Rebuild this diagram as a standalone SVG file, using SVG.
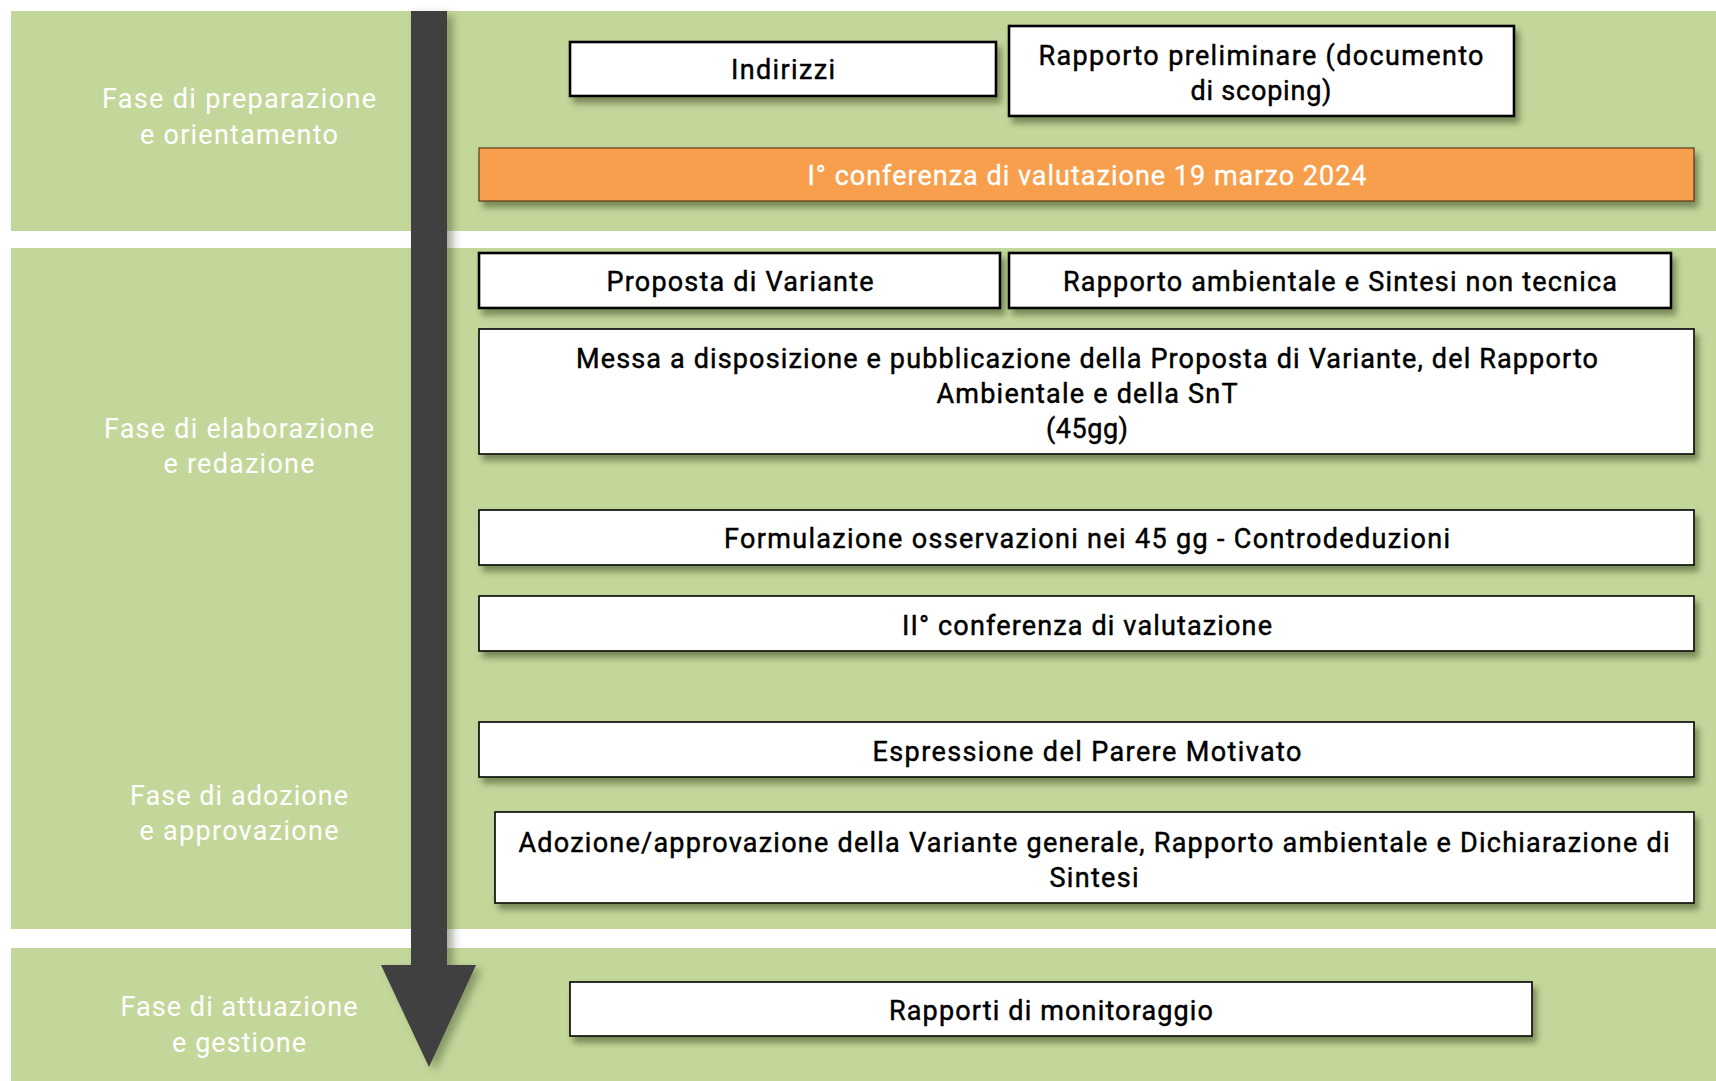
<svg xmlns="http://www.w3.org/2000/svg" width="1716" height="1081" viewBox="0 0 1716 1081">
<defs>
<filter id="sh" x="-5%" y="-20%" width="115%" height="160%">
<feDropShadow dx="4" dy="6" stdDeviation="3" flood-color="#3a4a20" flood-opacity="0.55"/>
</filter>
<filter id="ash" x="-20%" y="-5%" width="160%" height="115%">
<feDropShadow dx="6" dy="4" stdDeviation="4" flood-color="#3a4a20" flood-opacity="0.45"/>
</filter>
<style>
.band{fill:#C4D79B}
.box{fill:#fff;stroke:#000;stroke-width:1.6;filter:url(#sh)}
.boxb{fill:#fff;stroke:#000;stroke-width:2.6;filter:url(#sh)}
.orange{fill:#F79F4D;stroke:#5a3a1a;stroke-width:1.2;filter:url(#sh)}
.t{font-family:Roboto,"Liberation Sans",sans-serif;font-size:27px;fill:#000;stroke:#000;stroke-width:0.45;text-anchor:middle}
.tw{font-family:Roboto,"Liberation Sans",sans-serif;font-size:27px;fill:#fff;stroke:#fff;stroke-width:0.3;text-anchor:middle}
.ph{font-family:Roboto,"Liberation Sans",sans-serif;font-size:27px;fill:#fff;text-anchor:middle}
</style>
</defs>
<rect width="1716" height="1081" fill="#fff"/>
<g id="bands">
<rect class="band" x="11" y="11" width="1705" height="220"/>
<rect class="band" x="11" y="248" width="1705" height="681"/>
<rect class="band" x="11" y="948" width="1705" height="133"/>
</g>
<g id="phase-labels">
<text class="ph" x="239" y="108" textLength="274">Fase di preparazione</text>
<text class="ph" x="239" y="144" textLength="198">e orientamento</text>
<text class="ph" x="239" y="438" textLength="270">Fase di elaborazione</text>
<text class="ph" x="239" y="473" textLength="151">e redazione</text>
<text class="ph" x="239" y="805" textLength="218">Fase di adozione</text>
<text class="ph" x="239" y="840" textLength="199">e approvazione</text>
<text class="ph" x="239" y="1016" textLength="237">Fase di attuazione</text>
<text class="ph" x="239" y="1052" textLength="134">e gestione</text>
</g>
<g id="connectors">
<path d="M411,11 L447,11 L447,965 L476,965 L429,1067 L381,965 L411,965 Z" fill="#404040" filter="url(#ash)"/>
</g>
<g id="n-indirizzi">
<rect class="boxb" x="570" y="42" width="426" height="54"/>
<text class="t" x="783" y="79" textLength="104">Indirizzi</text>
</g>
<g id="n-rapporto-preliminare">
<rect class="boxb" x="1009" y="26" width="505" height="90"/>
<text class="t" x="1261" y="65" textLength="445">Rapporto preliminare (documento</text>
<text class="t" x="1261" y="100" textLength="141">di scoping)</text>
</g>
<g id="n-conferenza-1">
<rect class="orange" x="479" y="148" width="1215" height="53"/>
<text class="tw" x="1087" y="185" textLength="559">I° conferenza di valutazione 19 marzo 2024</text>
</g>
<g id="n-proposta">
<rect class="boxb" x="479" y="253" width="521" height="55"/>
<text class="t" x="740" y="291" textLength="267">Proposta di Variante</text>
</g>
<g id="n-rapporto-ambientale">
<rect class="boxb" x="1009" y="253" width="662" height="55"/>
<text class="t" x="1340" y="291" textLength="554">Rapporto ambientale e Sintesi non tecnica</text>
</g>
<g id="n-messa">
<rect class="box" x="479" y="329" width="1215" height="125"/>
<text class="t" x="1087" y="368" textLength="1022">Messa a disposizione e pubblicazione della Proposta di Variante, del Rapporto</text>
<text class="t" x="1087" y="403" textLength="301">Ambientale e della SnT</text>
<text class="t" x="1087" y="438" textLength="82">(45gg)</text>
</g>
<g id="n-formulazione">
<rect class="box" x="479" y="510" width="1215" height="55"/>
<text class="t" x="1087" y="548" textLength="726">Formulazione osservazioni nei 45 gg - Controdeduzioni</text>
</g>
<g id="n-conferenza-2">
<rect class="box" x="479" y="596" width="1215" height="55"/>
<text class="t" x="1087" y="635" textLength="370">II° conferenza di valutazione</text>
</g>
<g id="n-parere">
<rect class="box" x="479" y="722" width="1215" height="55"/>
<text class="t" x="1087" y="761" textLength="429">Espressione del Parere Motivato</text>
</g>
<g id="n-adozione">
<rect class="box" x="495" y="812" width="1199" height="91"/>
<text class="t" x="1094" y="852" textLength="1151">Adozione/approvazione della Variante generale, Rapporto ambientale e Dichiarazione di</text>
<text class="t" x="1094" y="887" textLength="89">Sintesi</text>
</g>
<g id="n-monitoraggio">
<rect class="box" x="570" y="982" width="962" height="54"/>
<text class="t" x="1051" y="1020" textLength="324">Rapporti di monitoraggio</text>
</g>
</svg>
